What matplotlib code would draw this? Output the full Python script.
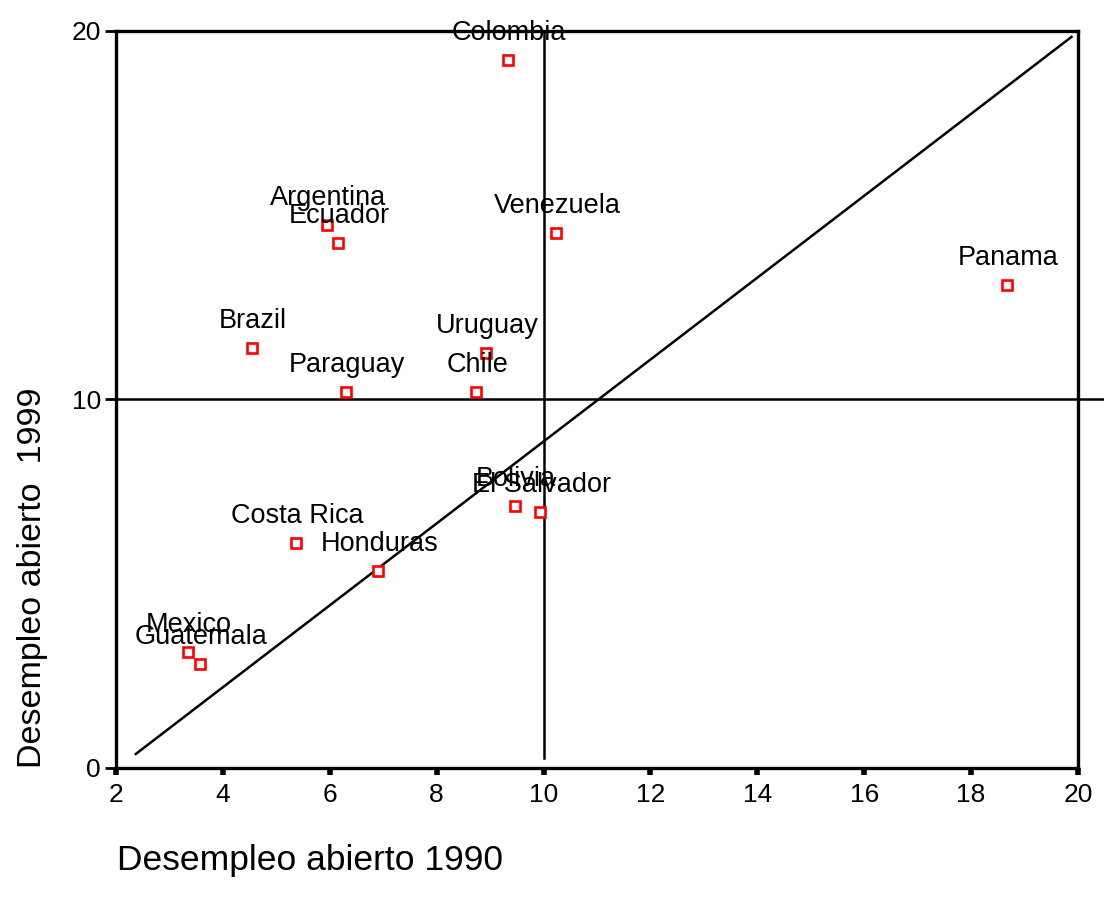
import matplotlib
matplotlib.use("Agg")
import matplotlib.pyplot as plt

plt.rcParams['font.family'] = ['Liberation Sans', 'DejaVu Sans']

countries = ["Colombia", "Argentina", "Ecuador", "Venezuela", "Panama", "Brazil",
             "Uruguay", "Paraguay", "Chile", "Bolivia", "El Salvador", "Costa Rica",
             "Honduras", "Mexico", "Guatemala"]
unemp_1990 = [9.34, 5.95, 6.16, 10.24, 18.67, 4.55, 8.93, 6.31, 8.74, 9.47, 9.94, 5.37, 6.91, 3.35, 3.57]
unemp_1999 = [19.21, 14.74, 14.25, 14.53, 13.12, 11.41, 11.25, 10.19, 10.19, 7.10, 6.94, 6.10, 5.34, 3.14, 2.82]

# fitted line endpoints and reference lines
fit_x = [2.37, 19.88]
fit_y = [0.38, 19.84]
ref_x = 10
ref_y = 10

fig = plt.figure(figsize=(11.04, 8.98), dpi=100)
ax = fig.add_axes([0.1051, 0.1448, 0.8713, 0.8207])

ax.plot(fit_x, fit_y, color='black', lw=1.8)
ax.plot([ref_x, ref_x], [0.27, 20], color='black', lw=1.8)
ax.plot([2, 20.5], [ref_y, ref_y], color='black', lw=1.8, clip_on=False)

ax.plot(unemp_1990, unemp_1999, 's', ms=7.5, mfc='white', mec='red', mew=1.9, ls='none', zorder=3)

for name, x, y in zip(countries, unemp_1990, unemp_1999):
    ax.annotate(name, (x, y), xytext=(1, 27), textcoords='offset pixels',
                ha='center', va='center', fontsize=19.5, color='black', zorder=4)

ax.set_xlim(2, 20)
ax.set_ylim(0, 20)
ax.set_xticks(range(2, 21, 2))
ax.set_yticks([0, 10, 20])

for sp in ax.spines.values():
    sp.set_linewidth(2.4)

ax.tick_params(axis='x', direction='out', length=5, width=4, pad=6, labelsize=19)
ax.tick_params(axis='y', direction='out', length=8, width=2, pad=3, labelsize=19)

fig.text(0.106, 0.023, "Desempleo abierto 1990", fontsize=25.5, ha='left', va='bottom')
fig.text(0.029, 0.357, "Desempleo abierto  1999", fontsize=24.5, rotation=90,
         ha='center', va='center')

fig.savefig("out.png", dpi=100)
